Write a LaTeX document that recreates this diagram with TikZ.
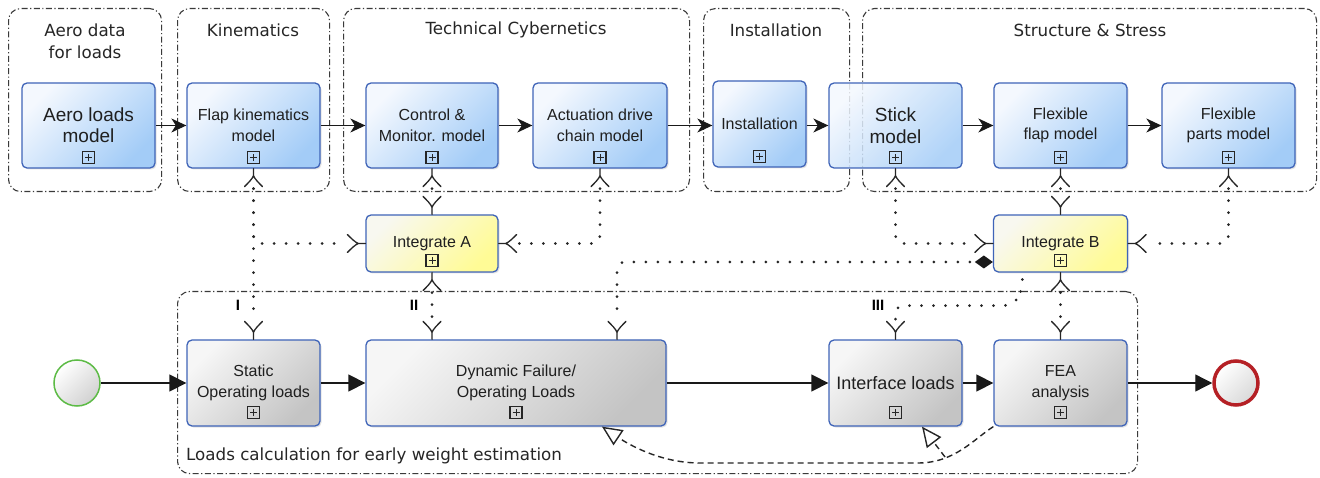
\documentclass[tikz,border=0pt]{standalone}
\usepackage{fontspec}
\setmainfont{Liberation Sans}
\newfontfamily\dejavu{DejaVu Sans}
\usetikzlibrary{arrows.meta,shadows,calc}
\definecolor{bborder}{HTML}{3F64B8}
\definecolor{bfill}{HTML}{A3CCF7}
\definecolor{bfillL}{HTML}{F4F8FE}
\definecolor{gfill}{HTML}{C4C4C4}
\definecolor{gfillL}{HTML}{F6F6F6}
\definecolor{yfill}{HTML}{FFFB96}
\definecolor{yfillL}{HTML}{F8F8F0}
\definecolor{startg}{HTML}{5DBB46}
\definecolor{endr}{HTML}{B52025}
\definecolor{grpc}{HTML}{3A3A3A}
\begin{document}
\begin{tikzpicture}[x=1pt,y=-1pt,
  grp/.style={draw=grpc, line width=1.1pt, rounded corners=12pt,
    dash pattern=on 6pt off 2.5pt on 1.2pt off 2.5pt, inner sep=0pt, anchor=north west},
  ttl/.style={font=\dejavu\fontsize{16.7}{22}\selectfont, text=black!85, align=center, inner sep=0pt},
  taskbase/.style={rounded corners=5pt, draw=bborder, line width=1.3pt, align=center,
    inner sep=2pt, font=\fontsize{16}{20.5}\selectfont, text=black!88,
    minimum width=133pt, minimum height=85pt},
  shad/.style={drop shadow={shadow xshift=1.5pt, shadow yshift=-1.5pt, opacity=0.22}},
  bluet/.style={taskbase, shad, top color=bfillL, bottom color=bfill, shading angle=45},
  grayt/.style={taskbase, shad, top color=gfillL, bottom color=gfill, shading angle=45},
  yellowt/.style={taskbase, shad, top color=yfillL, bottom color=yfill, shading angle=45},
  plus/.style={draw=black!85, line width=1.2pt, minimum size=12pt, inner sep=0pt,
    path picture={\draw[line width=1pt,black!85]
      ([xshift=-3.5pt]path picture bounding box.center) -- ([xshift=3.5pt]path picture bounding box.center)
      ([yshift=-3.5pt]path picture bounding box.center) -- ([yshift=3.5pt]path picture bounding box.center);}},
  seq/.style={draw=black!90, line width=1.3pt, -{Stealth[length=15pt,width=14pt,inset=4.5pt]}},
  flow/.style={draw=black!90, line width=1.3pt, -{Triangle[length=17pt,width=17pt]}},
  dots/.style={draw=black!85, line width=3pt, line cap=round, dash pattern=on 0pt off 12pt},
  assoc/.style={draw=black!85, line width=1.4pt, dash pattern=on 6pt off 4pt,
    -{Triangle[open, length=20pt, width=18pt, fill=white]}},
  num/.style={font=\bfseries\fontsize{15}{15}\selectfont, inner sep=0pt},
  fork/.pic={\draw[draw=black!85, line width=1.3pt, line cap=round]
    (0,0) -- (7,0) .. controls (10,1) and (14,5) .. (18,9)
    (7,0) .. controls (10,-1) and (14,-5) .. (18,-9);}
]
\useasboundingbox (0,0) rectangle (1320,478);
\fill[white] (0,0) rectangle (1320,478);

% groups
\node[grp, minimum width=153pt, minimum height=183pt] (g1) at (8,8) {};
\node[grp, minimum width=152pt, minimum height=183pt] (g2) at (177,8) {};
\node[grp, minimum width=346pt, minimum height=183pt] (g3) at (343,8) {};
\node[grp, minimum width=146pt, minimum height=183pt] (g4) at (703,8) {};
\node[grp, minimum width=454pt, minimum height=183pt] (g5) at (862,8) {};
\node[grp, minimum width=960pt, minimum height=182pt] (g6) at (177,291) {};

\node[ttl] (t1) at (85,41) {Aero data\\for loads};
\node[ttl] (t2) at (253,30) {Kinematics};
\node[ttl] (t3) at (516,30) {Technical Cybernetics};
\node[ttl] (t4) at (776,30) {Installation};
\node[ttl] (t5) at (1090,30) {Structure \& Stress};
\node[ttl, anchor=west] (t6) at (186,456) {Loads calculation for early weight estimation};

% top tasks
\node[bluet, font=\fontsize{19}{21}\selectfont] (aero) at (88.5,125.5) {Aero loads\\model};
\node[bluet] (flap) at (253.5,125.5) {Flap kinematics\\model};
\node[bluet, minimum width=132pt] (ctrl) at (432,125.5) {Control \&\\Monitor. model};
\node[bluet, minimum width=134pt] (act) at (600,125.5) {Actuation drive\\chain model};
\node[bluet, minimum width=93pt, minimum height=86pt] (inst) at (759.5,124) {Installation};
\node[taskbase, top color=bfillL, bottom color=bfill, shading angle=45, fill opacity=0.85, text opacity=1,
  font=\fontsize{19}{22}\selectfont] (stick) at (895.5,125.5) {Stick\\model};
\node[bluet] (flex) at (1060.5,125.5) {Flexible\\flap model};
\node[bluet] (parts) at (1228.5,125.5) {Flexible\\parts model};

% integrate
\node[yellowt, minimum width=132pt, minimum height=57pt] (ia) at (432,243.5) {Integrate A};
\node[yellowt, minimum width=134pt, minimum height=57pt] (ib) at (1060.5,243.5) {Integrate B};

% bottom tasks
\node[grayt, minimum height=86pt] (stat) at (253.5,383) {Static\\Operating loads};
\node[grayt, minimum width=300pt, minimum height=86pt] (dyn) at (516,383) {Dynamic Failure/\\Operating Loads};
\node[grayt, minimum height=86pt, font=\fontsize{18}{20}\selectfont] (intf) at (895.5,383) {Interface loads};
\node[grayt, minimum height=86pt] (fea) at (1060.5,383) {FEA\\analysis};

\node[circle, minimum size=46pt, inner sep=0pt, draw=startg, line width=1.5pt,
  top color=white, bottom color=black!18, shading angle=45] (start) at (77,383) {};
\node[circle, minimum size=44pt, inner sep=0pt, draw=endr, line width=3.5pt,
  top color=white, bottom color=black!15, shading angle=45] (stop) at (1236,383) {};

% sub-process markers
\foreach \n in {aero,flap,ctrl,act,inst,stick,flex,parts}
  \node[plus] (\n P) at ([yshift=11pt]\n.south) {};
\foreach \n in {ia,ib}
  \node[plus] (\n P) at ([yshift=12pt]\n.south) {};
\foreach \n in {stat,dyn,intf,fea}
  \node[plus] (\n P) at ([yshift=14pt]\n.south) {};

% sequence flows (top)
\draw[seq] (aero) -- (flap);
\draw[seq] (flap) -- (ctrl);
\draw[seq] (ctrl) -- (act);
\draw[seq] (act.east) -- (act.east -| inst.west);
\draw[seq] (stick.west -| inst.east) -- (stick.west);
\draw[seq] (stick) -- (flex);
\draw[seq] (flex) -- (parts);

% sequence flows (bottom)
\draw[flow] (start) -- (stat);
\draw[flow] (stat) -- (dyn);
\draw[flow] (dyn) -- (intf);
\draw[flow] (intf) -- (fea);
\draw[flow] (fea) -- (stop);

% associations (dashed)
\coordinate (jn) at (945,457);
\draw[assoc] (fea.south west) .. controls (975,438) and (955,463) .. (918,463) -- (700,463)
  .. controls (660,463) and (628,444) .. ([xshift=86pt]dyn.south);
\draw[assoc] (jn) -- ([xshift=26.5pt]intf.south);

% dotted data associations
\draw[dots, shorten <=20pt, shorten >=20pt] (flap.south) -- (stat.north);
\draw[dots, rounded corners=8pt, shorten <=20pt, shorten >=20pt] (flap.south) |- (ia.west);
\draw[dots, shorten <=20pt, shorten >=20pt] (ctrl.south) -- (ia.north);
\draw[dots, rounded corners=8pt, shorten <=20pt, shorten >=20pt] (act.south) |- (ia.east);
\draw[dots, shorten <=20pt, shorten >=20pt] (ia.south) -- (ia.south |- dyn.north);
\draw[dots, rounded corners=8pt, shorten <=20pt, shorten >=20pt] (stick.south) |- (ib.west);
\draw[dots, shorten <=20pt, shorten >=20pt] (flex.south) -- (ib.north);
\draw[dots, rounded corners=8pt, shorten <=20pt, shorten >=20pt] (parts.south) |- (ib.east);
\draw[dots, shorten <=20pt, shorten >=20pt] (ib.south) -- (fea.north);
\draw[dots, rounded corners=8pt, shorten <=23pt, shorten >=20pt]
  ([yshift=-18.5pt]ib.west) -| ([xshift=101pt]dyn.north);
\fill[black!90] ([yshift=-18.5pt]ib.west) -- ++(-9,-6.5) -- ++(-9,6.5) -- ++(9,6.5) -- cycle;
\draw[dots, rounded corners=8pt, shorten <=7pt, shorten >=20pt]
  ([xshift=-37.5pt]ib.south) -- ++(-2,22) -- ++(-10,11) -| (intf.north);

% fork ends
\pic[rotate=-90] at (flap.south) {fork};
\pic[rotate=90] at (stat.north) {fork};
\pic[rotate=180] at (ia.west) {fork};
\pic[rotate=-90] at (ctrl.south) {fork};
\pic[rotate=90] at (ia.north) {fork};
\pic[rotate=-90] at (act.south) {fork};
\pic at (ia.east) {fork};
\pic[rotate=-90] at (ia.south) {fork};
\pic[rotate=90] at (ia.south |- dyn.north) {fork};
\pic[rotate=-90] at (stick.south) {fork};
\pic[rotate=180] at (ib.west) {fork};
\pic[rotate=-90] at (flex.south) {fork};
\pic[rotate=90] at (ib.north) {fork};
\pic[rotate=-90] at (parts.south) {fork};
\pic at (ib.east) {fork};
\pic[rotate=-90] at (ib.south) {fork};
\pic[rotate=90] at (fea.north) {fork};
\pic[rotate=90] at ([xshift=101pt]dyn.north) {fork};
\pic[rotate=90] at (intf.north) {fork};

% labels
\node[num] (n1) at (238,305) {I};
\node[num] (n2) at (414,305) {II};
\node[num] (n3) at (878,305) {III};
\end{tikzpicture}
\end{document}
